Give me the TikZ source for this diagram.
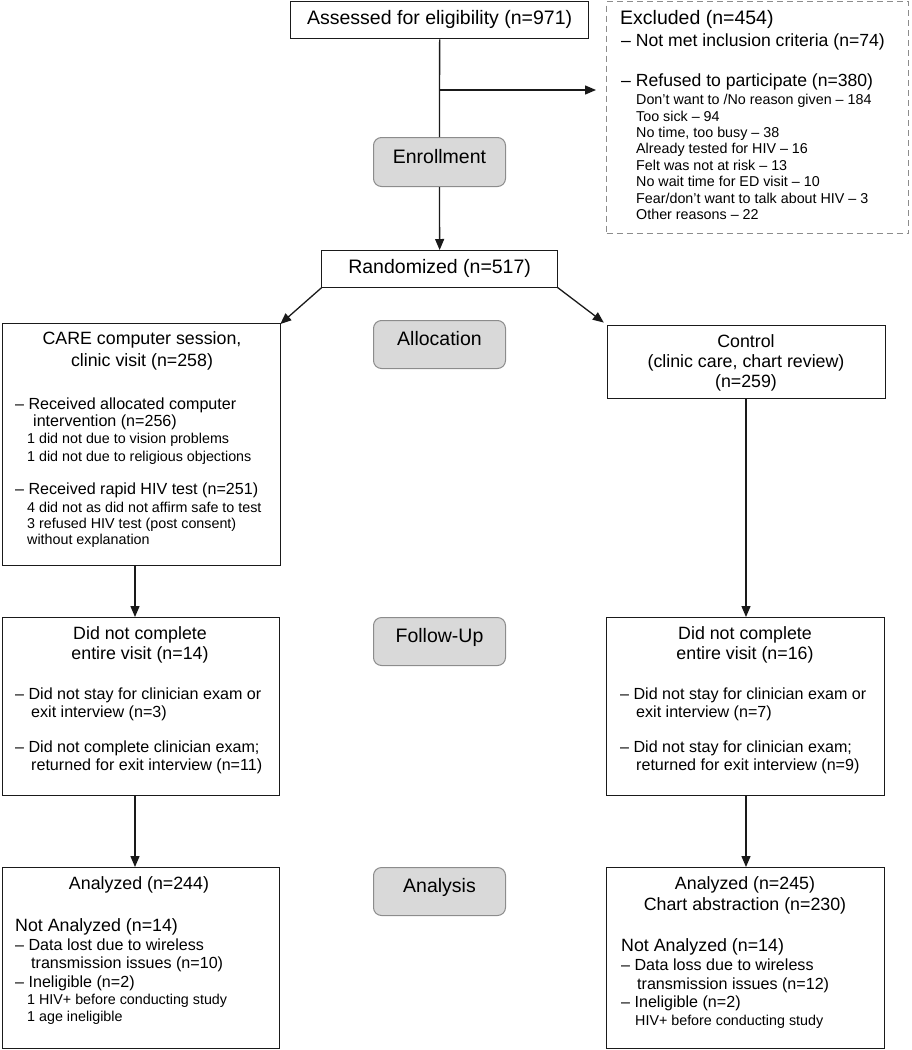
\documentclass[tikz,border=0pt]{standalone}
\usepackage{fontspec}
\setmainfont{Liberation Sans}
\usetikzlibrary{arrows.meta}
\newcommand\fA{\fontsize{19.5}{23}\selectfont}
\newcommand\fB{\fontsize{17.8}{21}\selectfont}
\newcommand\fE{\fontsize{17.6}{21}\selectfont}
\newcommand\fC{\fontsize{16.1}{19}\selectfont}
\newcommand\fD{\fontsize{14.3}{17}\selectfont}
\definecolor{graybox}{HTML}{D9D9D9}
\definecolor{grayline}{HTML}{8C8C8C}
\definecolor{ink}{HTML}{1A1A1A}
\begin{document}
\begin{tikzpicture}[x=1pt,y=-1pt,
  box/.style={draw=ink, line width=1.3pt, inner sep=0pt, anchor=north west, rectangle},
  dbox/.style={draw=grayline, line width=1.2pt, dash pattern=on 6pt off 4pt, inner sep=0pt, anchor=north west, rectangle},
  gbox/.style={draw=grayline, fill=graybox, line width=1pt, rounded corners=8pt, inner sep=0pt, anchor=north west, rectangle, minimum width=132pt, minimum height=48pt},
  t/.style={inner sep=0pt, anchor=mid west, text=black, yshift=-2pt},
  tc/.style={inner sep=0pt, anchor=mid, text=black, yshift=-2pt},
  gl/.style={inner sep=0pt, anchor=mid, text=black},
  arr/.style={draw=ink, line width=1.3pt, -{Triangle[length=11pt,width=9pt]}},
  ln/.style={draw=ink, line width=1.3pt}]
\useasboundingbox (0,0) rectangle (911,1050);

% ---------- boxes ----------
\node[box, minimum width=298pt, minimum height=37pt] (assess) at (290,1) {};
\node[dbox, minimum width=302pt, minimum height=232pt] (excl) at (606,1) {};
\node[gbox, minimum height=49pt] (enroll) at (373,137) {};
\node[box, minimum width=236pt, minimum height=37pt] (rand) at (321,250) {};
\node[gbox] (alloc) at (373,320) {};
\node[box, minimum width=278pt, minimum height=242pt] (care) at (2,323) {};
\node[box, minimum width=278pt, minimum height=73pt] (ctrl) at (607,325) {};
\node[gbox] (fu) at (373,617) {};
\node[box, minimum width=277pt, minimum height=178pt] (fuL) at (1.5,617) {};
\node[box, minimum width=278pt, minimum height=178pt] (fuR) at (606,617) {};
\node[gbox] (an) at (373,867) {};
\node[box, minimum width=277pt, minimum height=181pt] (anL) at (1.5,867) {};
\node[box, minimum width=278pt, minimum height=181pt] (anR) at (606,867) {};

% ---------- texts ----------
\node[tc] (assessT) at (assess.center) {\fA Assessed for eligibility (n=971)};
\node[tc] (randT) at (rand.center) {\fA Randomized (n=517)};
\node[gl] (enrollT) at ([yshift=1.5pt]enroll.center) {\fA Enrollment};
\node[gl] (allocT) at ([yshift=1.5pt]alloc.center) {\fA Allocation};
\node[gl] (fuT) at ([yshift=1.5pt]fu.center) {\fA Follow-Up};
\node[gl] (anT) at ([yshift=1.5pt]an.center) {\fA Analysis};

% Excluded
\node[t] (ex1) at (620,20) {\fA Excluded (n=454)};
\node[t] (ex2) at (621,42) {\fE – Not met inclusion criteria (n=74)};
\node[t] (ex3) at (621,82) {\fE – Refused to participate (n=380)};
\node[t] (ex4) at (636,100) {\fD Don’t want to /No reason given – 184};
\node[t] (ex5) at (636,117) {\fD Too sick – 94};
\node[t] (ex6) at (636,133) {\fD No time, too busy – 38};
\node[t] (ex7) at (636,149) {\fD Already tested for HIV – 16};
\node[t] (ex8) at (636,166) {\fD Felt was not at risk – 13};
\node[t] (ex9) at (636,182) {\fD No wait time for ED visit – 10};
\node[t] (ex10) at (636,199) {\fD Fear/don’t want to talk about HIV – 3};
\node[t] (ex11) at (636,215) {\fD Other reasons – 22};

% CARE
\node[tc] (ca1) at (142,340) {\fB CARE computer session,};
\node[tc] (ca2) at (142,362) {\fB clinic visit (n=258)};
\node[t] (ca3) at (15,405) {\fC – Received allocated computer};
\node[t] (ca4) at (33,422) {\fC intervention (n=256)};
\node[t] (ca5) at (27,439) {\fD 1 did not due to vision problems};
\node[t] (ca6) at (27,457) {\fD 1 did not due to religious objections};
\node[t] (ca7) at (15,490) {\fC – Received rapid HIV test (n=251)};
\node[t] (ca8) at (27,508) {\fD 4 did not as did not affirm safe to test};
\node[t] (ca9) at (27,524) {\fD 3 refused HIV test (post consent)};
\node[t] (ca10) at (27,540) {\fD without explanation};

% Control
\node[tc] (co1) at (746,343) {\fB Control};
\node[tc] (co2) at (746,363) {\fB (clinic care, chart review)};
\node[tc] (co3) at (746,383) {\fB (n=259)};

% Follow-up left
\node[tc] (fl1) at (140,635) {\fB Did not complete};
\node[tc] (fl2) at (140,655) {\fB entire visit (n=14)};
\node[t] (fl3) at (15,695) {\fC – Did not stay for clinician exam or};
\node[t] (fl4) at (31,713) {\fC exit interview (n=3)};
\node[t] (fl5) at (15,748) {\fC – Did not complete clinician exam;};
\node[t] (fl6) at (31,766) {\fC returned for exit interview (n=11)};

% Follow-up right
\node[tc] (fr1) at (745,635) {\fB Did not complete};
\node[tc] (fr2) at (745,655) {\fB entire visit (n=16)};
\node[t] (fr3) at (620,695) {\fC – Did not stay for clinician exam or};
\node[t] (fr4) at (636,713) {\fC exit interview (n=7)};
\node[t] (fr5) at (620,748) {\fC – Did not stay for clinician exam;};
\node[t] (fr6) at (636,766) {\fC returned for exit interview (n=9)};

% Analysis left
\node[tc] (al1) at (139,885) {\fB Analyzed (n=244)};
\node[t] (al2) at (15,927) {\fB Not Analyzed (n=14)};
\node[t] (al3) at (15,946) {\fC – Data lost due to wireless};
\node[t] (al4) at (31,964) {\fC transmission issues (n=10)};
\node[t] (al5) at (15,983) {\fC – Ineligible (n=2)};
\node[t] (al6) at (27,1000) {\fD 1 HIV+ before conducting study};
\node[t] (al7) at (27,1017) {\fD 1 age ineligible};

% Analysis right
\node[tc] (ar1) at (745,885) {\fB Analyzed (n=245)};
\node[tc] (ar2) at (745,906) {\fB Chart abstraction (n=230)};
\node[t] (ar3) at (621,947) {\fB Not Analyzed (n=14)};
\node[t] (ar4) at (621,966) {\fC – Data loss due to wireless};
\node[t] (ar5) at (637,985) {\fC transmission issues (n=12)};
\node[t] (ar6) at (621,1003) {\fC – Ineligible (n=2)};
\node[t] (ar7) at (635,1021) {\fD HIV+ before conducting study};

% ---------- connectors ----------
\coordinate (br) at (assess.south |- 0,90);
\coordinate (colL) at (135,0);
\coordinate (colR) at (746,0);
\draw[ln] (assess.south) -- (enroll.north);
\draw[arr, shorten >=10pt] (br) -- (excl.west |- br);
\draw[arr] (enroll.south) -- (rand.north);
\draw[arr] ([xshift=1pt,yshift=1pt]rand.south west) -- ([xshift=-1pt,yshift=-1pt]care.north east);
\draw[arr, shorten >=4pt] ([xshift=-1pt,yshift=1pt]rand.south east) -- (ctrl.north west);
\draw[arr] (care.south -| colL) -- (fuL.north -| colL);
\draw[arr] (ctrl.south -| colR) -- (fuR.north -| colR);
\draw[arr] (fuL.south -| colL) -- (anL.north -| colL);
\draw[arr] (fuR.south -| colR) -- (anR.north -| colR);
\end{tikzpicture}
\end{document}
